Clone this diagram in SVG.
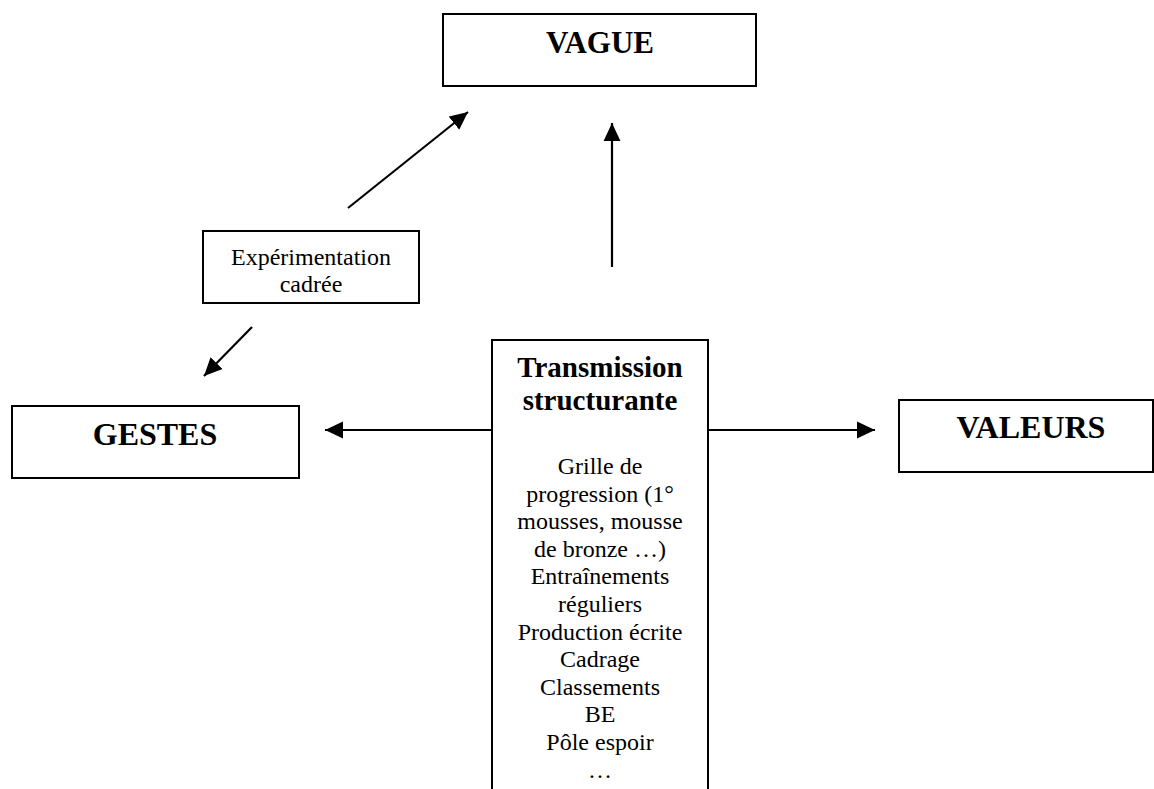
<svg xmlns="http://www.w3.org/2000/svg" width="1154" height="789" viewBox="0 0 1154 789">
<style>
.box{fill:#fff;stroke:#000;stroke-width:2}
.conn{stroke:#000;stroke-width:2.2;fill:none;marker-end:url(#ah)}
.title{font-family:"Liberation Serif","Times New Roman",serif;font-weight:bold;fill:#000;text-anchor:middle}
.body{font-family:"Liberation Serif","Times New Roman",serif;font-size:24px;fill:#000;text-anchor:middle}
</style>
<defs>
<marker id="ah" markerUnits="userSpaceOnUse" markerWidth="18" markerHeight="18" viewBox="0 0 16 16" refX="16" refY="8" orient="auto">
<path d="M0,0.5 L16,8 L0,15.5 Z" fill="#000"/>
</marker>
</defs>
<rect width="1154" height="789" fill="#fff"/>
<g id="vague">
<rect class="box" x="443" y="14" width="313" height="72"/>
<text class="title" x="600" y="53" font-size="31">VAGUE</text>
</g>
<g id="experimentation">
<rect class="box" x="203" y="231" width="216" height="72"/>
<text class="body" x="311" y="265" font-size="23">Expérimentation</text>
<text class="body" x="311" y="292" font-size="23">cadrée</text>
</g>
<g id="gestes">
<rect class="box" x="12" y="406" width="287" height="72"/>
<text class="title" x="155" y="445" font-size="32">GESTES</text>
</g>
<g id="valeurs">
<rect class="box" x="899" y="400" width="254" height="72"/>
<text class="title" x="1031" y="438" font-size="32">VALEURS</text>
</g>
<g id="transmission">
<rect class="box" x="492" y="340" width="216" height="460"/>
<text class="title" x="600" y="377" font-size="29">Transmission</text>
<text class="title" x="600" y="410" font-size="29">structurante</text>
<text class="body" x="600" y="474">Grille de</text>
<text class="body" x="600" y="501.6">progression (1°</text>
<text class="body" x="600" y="529.2">mousses, mousse</text>
<text class="body" x="600" y="556.8">de bronze …)</text>
<text class="body" x="600" y="584.4">Entraînements</text>
<text class="body" x="600" y="612">réguliers</text>
<text class="body" x="600" y="639.6">Production écrite</text>
<text class="body" x="600" y="667.2">Cadrage</text>
<text class="body" x="600" y="694.8">Classements</text>
<text class="body" x="600" y="722.4">BE</text>
<text class="body" x="600" y="750">Pôle espoir</text>
<text class="body" x="600" y="777.6">…</text>
</g>
<g id="connectors">
<line class="conn" x1="348" y1="208" x2="468" y2="112"/>
<line class="conn" x1="252" y1="327" x2="204" y2="376"/>
<line class="conn" x1="612" y1="267" x2="612" y2="123"/>
<line class="conn" x1="492" y1="430" x2="325" y2="430"/>
<line class="conn" x1="708" y1="430" x2="875" y2="430"/>
</g>
</svg>
